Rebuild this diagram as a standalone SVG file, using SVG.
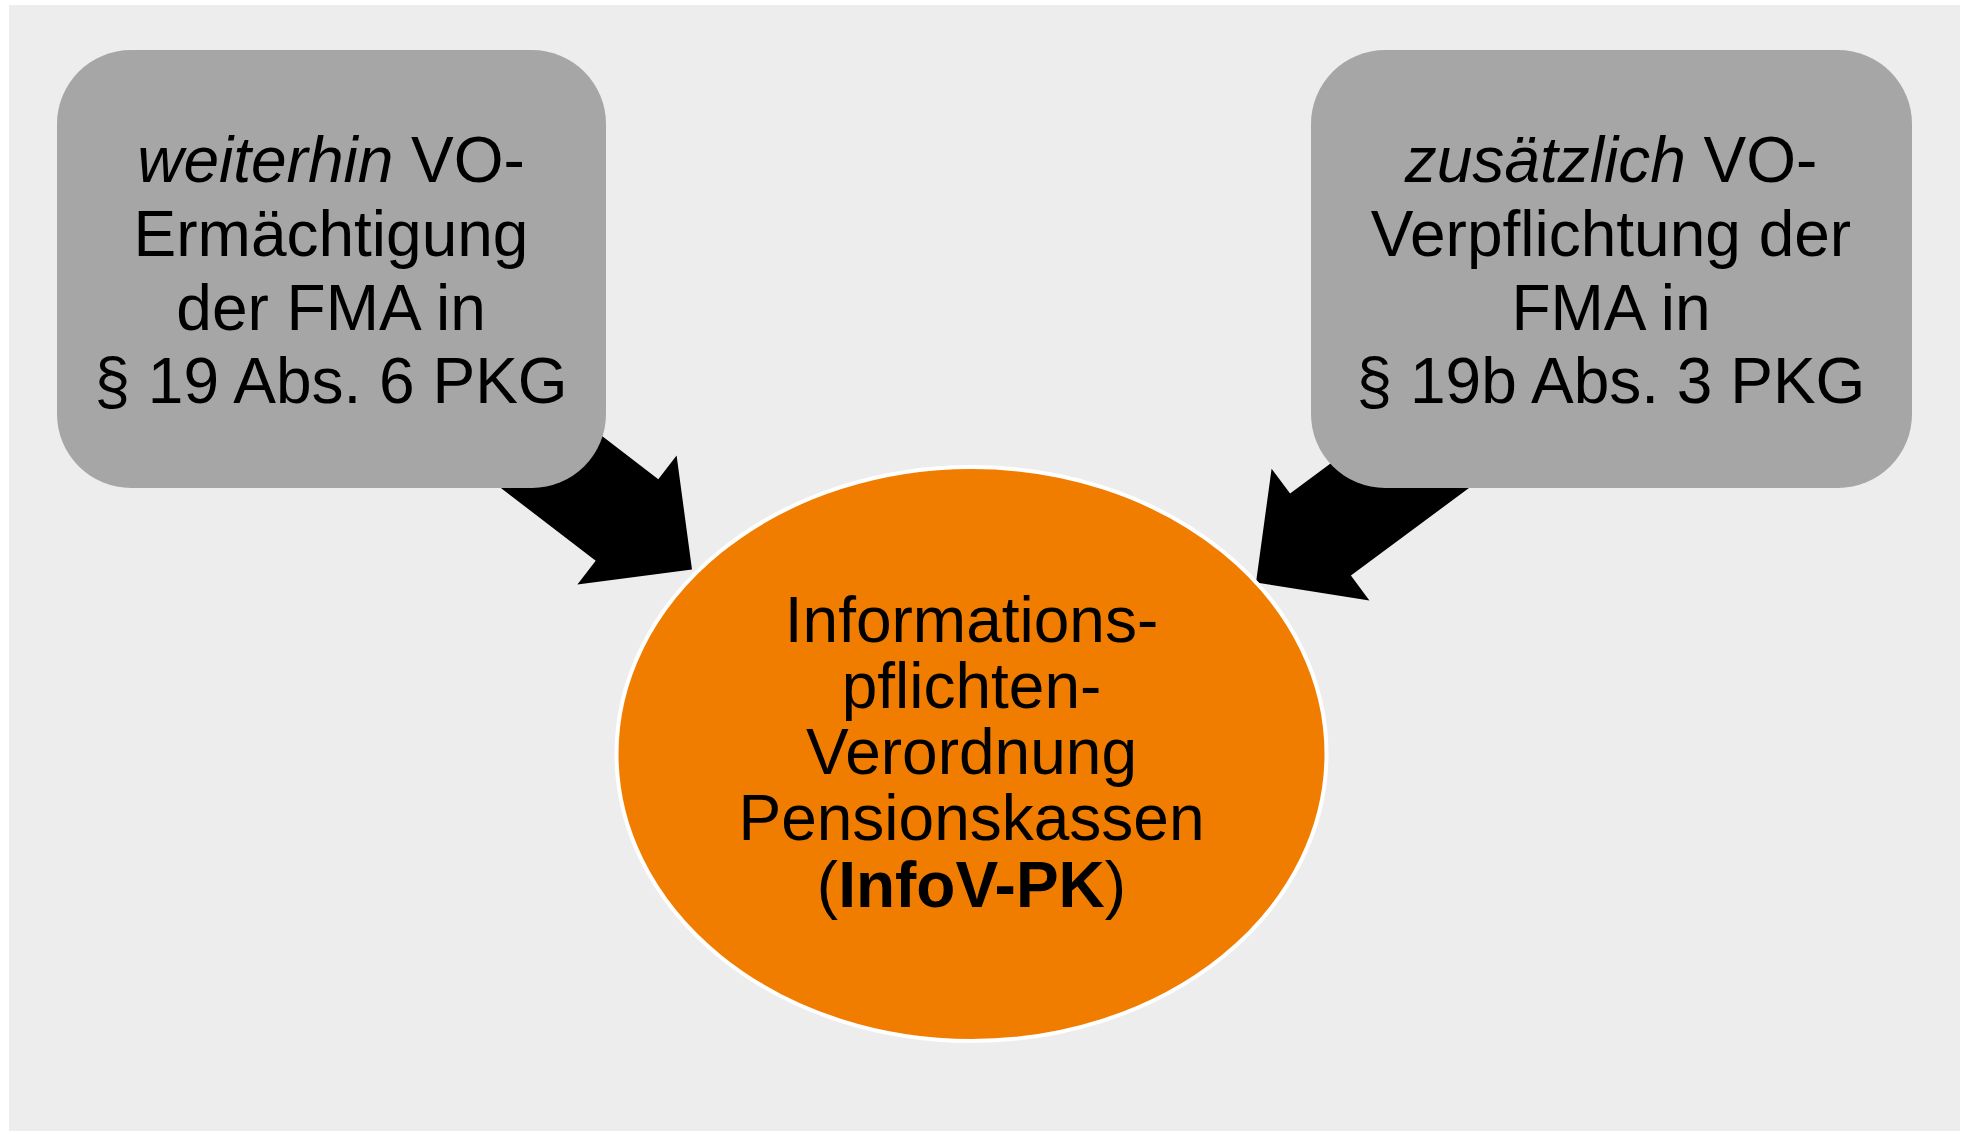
<svg xmlns="http://www.w3.org/2000/svg" width="1962" height="1131" viewBox="0 0 1962 1131">
<style>
  .t { font-family: "Liberation Sans", Arial, sans-serif; font-size: 64px; fill: #000; text-anchor: middle; }
  .box { fill: #a6a6a6; }
  .arrow { fill: #000; }
</style>
<rect x="0" y="0" width="1962" height="1131" fill="#ffffff"/>
<rect x="9" y="5" width="1951" height="1126" fill="#ededed"/>
<g id="connectors">
  <polygon class="arrow" points="460,326.9 658.3,479.2 676.6,455.5 692,569.5 577.4,584.5 595.7,560.8 397.4,408.5"/>
  <polygon class="arrow" points="1490.9,344.6 1290.1,493.6 1271.6,468.8 1256,582.5 1369.4,600.4 1350.9,575.6 1551.7,426.6"/>
</g>
<g id="node-left">
  <rect class="box" x="57" y="50" width="549" height="438" rx="74" ry="74"/>
  <text class="t" x="331" y="182"><tspan font-style="italic">weiterhin</tspan> VO-</text>
  <text class="t" x="331" y="256">Ermächtigung</text>
  <text class="t" x="331" y="330">der FMA in</text>
  <text class="t" x="331" y="403">§ 19 Abs. 6 PKG</text>
</g>
<g id="node-right">
  <rect class="box" x="1311" y="50" width="601" height="438" rx="74" ry="74"/>
  <text class="t" x="1611" y="182"><tspan font-style="italic">zusätzlich</tspan> VO-</text>
  <text class="t" x="1611" y="256">Verpflichtung der</text>
  <text class="t" x="1611" y="330">FMA in</text>
  <text class="t" x="1611" y="403">§ 19b Abs. 3 PKG</text>
</g>
<g id="node-center">
  <ellipse cx="971.5" cy="754" rx="355" ry="287" fill="#f07d00" stroke="#ffffff" stroke-width="4"/>
  <text class="t" x="971.5" y="641.5">Informations-</text>
  <text class="t" x="971.5" y="708">pflichten-</text>
  <text class="t" x="971.5" y="774">Verordnung</text>
  <text class="t" x="971.5" y="840">Pensionskassen</text>
  <text class="t" x="971.5" y="906.5">(<tspan font-weight="bold">InfoV-PK</tspan>)</text>
</g>
</svg>
